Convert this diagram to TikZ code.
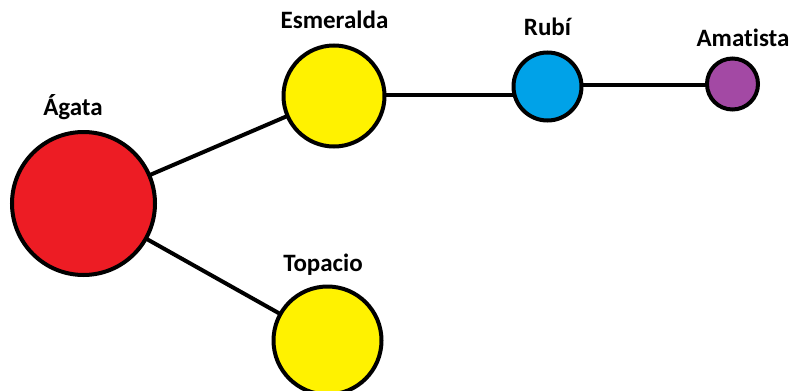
\documentclass[tikz,border=0pt]{standalone}
\usepackage{fontspec}
\setmainfont{Carlito}[Ligatures=NoCommon]
\usetikzlibrary{backgrounds}
\definecolor{gemred}{HTML}{ED1C24}
\definecolor{gemyellow}{HTML}{FFF200}
\definecolor{gemblue}{HTML}{00A2E8}
\definecolor{gempurple}{HTML}{A349A4}
\tikzset{
  gem/.style={circle, draw=black, line width=4pt, inner sep=0pt},
  gemlabel/.style={font=\fontsize{25}{30}\selectfont\bfseries, inner sep=0pt, anchor=base},
  link/.style={draw=black, line width=4pt}
}
\begin{document}
\begin{tikzpicture}[x=1pt, y=-1pt]
  \useasboundingbox (0,0) rectangle (793,391);
  % gemstones
  \node[gem, fill=gemred, minimum size=143pt] (ag) at (83.5,203.5) {};
  \node[gem, fill=gemyellow, minimum size=101pt] (esm) at (334,96) {};
  \node[gem, fill=gemyellow, minimum size=108pt] (top) at (327.5,340.5) {};
  \node[gem, fill=gemblue, minimum size=68pt] (rubi) at (547.5,86.5) {};
  \node[gem, fill=gempurple, minimum size=51pt] (ama) at (732.5,84) {};
  % names
  \node[gemlabel] (lag) at (73,115) {Ágata};
  \node[gemlabel] (lesm) at (334.5,28) {Esmeralda};
  \node[gemlabel] (ltop) at (323,271.5) {Topacio};
  \node[gemlabel] (lrubi) at (547.5,35) {Rubí};
  \node[gemlabel] (lama) at (743,46.5) {Amatista};
  % connections, behind the stones
  \begin{pgfonlayer}{background}
    \draw[link] (ag.center) -- (esm.center);
    \draw[link] (ag.center) -- (top.center);
    \draw[link] ([yshift=-(-1pt)]esm.center) -- ([yshift=-(-1pt)]esm.center -| rubi.center);
    \draw[link] ([yshift=-(-1.5pt)]rubi.center) -- ([yshift=-(-1.5pt)]rubi.center -| ama.center);
  \end{pgfonlayer}
\end{tikzpicture}
\end{document}
